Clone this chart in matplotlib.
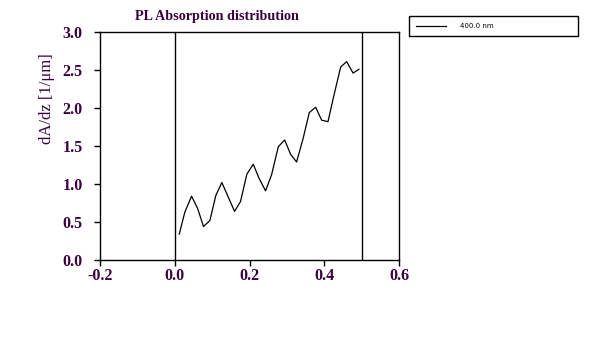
import numpy as np
import matplotlib.pyplot as plt

# PL absorption distribution, 400 nm
z_um = [0.012, 0.027, 0.045, 0.061, 0.077, 0.094, 0.110, 0.126, 0.143, 0.160,
        0.176, 0.193, 0.210, 0.226, 0.243, 0.259, 0.277, 0.294, 0.310, 0.326,
        0.343, 0.360, 0.377, 0.393, 0.410, 0.426, 0.444, 0.460, 0.477, 0.493]
dadz = [0.34, 0.63, 0.84, 0.68, 0.44, 0.52, 0.85, 1.02, 0.83, 0.64,
        0.77, 1.13, 1.26, 1.07, 0.91, 1.12, 1.49, 1.58, 1.39, 1.29,
        1.59, 1.94, 2.01, 1.84, 1.82, 2.17, 2.54, 2.61, 2.46, 2.51]
layer_edges = [0.0, 0.5]
series_label = '400.0 nm'
x_ticks = [-0.2, 0.0, 0.2, 0.4, 0.6]
y_ticks = [0.0, 0.5, 1.0, 1.5, 2.0, 2.5, 3.0]

TXT = '#3a0040'
plt.rcParams['font.family'] = ['Liberation Serif', 'DejaVu Serif']

fig = plt.figure(figsize=(5.93, 3.42), dpi=100)
ax = fig.add_axes([100/593, 1-260/342, 299/593, 228/342])

line, = ax.plot(z_um, dadz, color='black', lw=0.9)
for e in layer_edges:
    ax.axvline(e, color='black', lw=1.0)

ax.set_xlim(-0.2, 0.6)
ax.set_ylim(0, 3.0)
ax.set_xticks(x_ticks)
ax.set_yticks(y_ticks)
ax.set_xticklabels(['%.1f' % v for v in x_ticks])
ax.set_yticklabels(['%.1f' % v for v in y_ticks])
ax.tick_params(direction='out', length=4.5, width=1, colors='black',
               labelcolor=TXT, labelsize=11.5, top=False, right=False)
ax.tick_params(axis='y', pad=8)
ax.tick_params(axis='x', pad=1.5)
for lab in ax.get_xticklabels() + ax.get_yticklabels():
    lab.set_fontweight('bold')
for s in ax.spines.values():
    s.set_linewidth(1.0)

fig.text(216.5/593, 1-16.5/342, 'PL Absorption distribution', fontsize=10.2,
         fontweight='bold', color=TXT, ha='center', va='center')
fig.text(47/593, 1-98.5/342, 'dA/dz [1/μm]', fontsize=12, color=TXT,
         rotation=90, ha='center', va='center')

leg = fig.legend([line], [series_label], loc='upper left',
                 bbox_to_anchor=(409/593, 1-36/342, 169/593, 20/342), mode='expand',
                 borderaxespad=0, fancybox=False, edgecolor='black', framealpha=1,
                 handlelength=4.3, handletextpad=2.0, borderpad=1.0,
                 prop={'family': 'DejaVu Sans', 'size': 5})
leg.get_frame().set_linewidth(1.0)

fig.savefig('out.png', dpi=100)
